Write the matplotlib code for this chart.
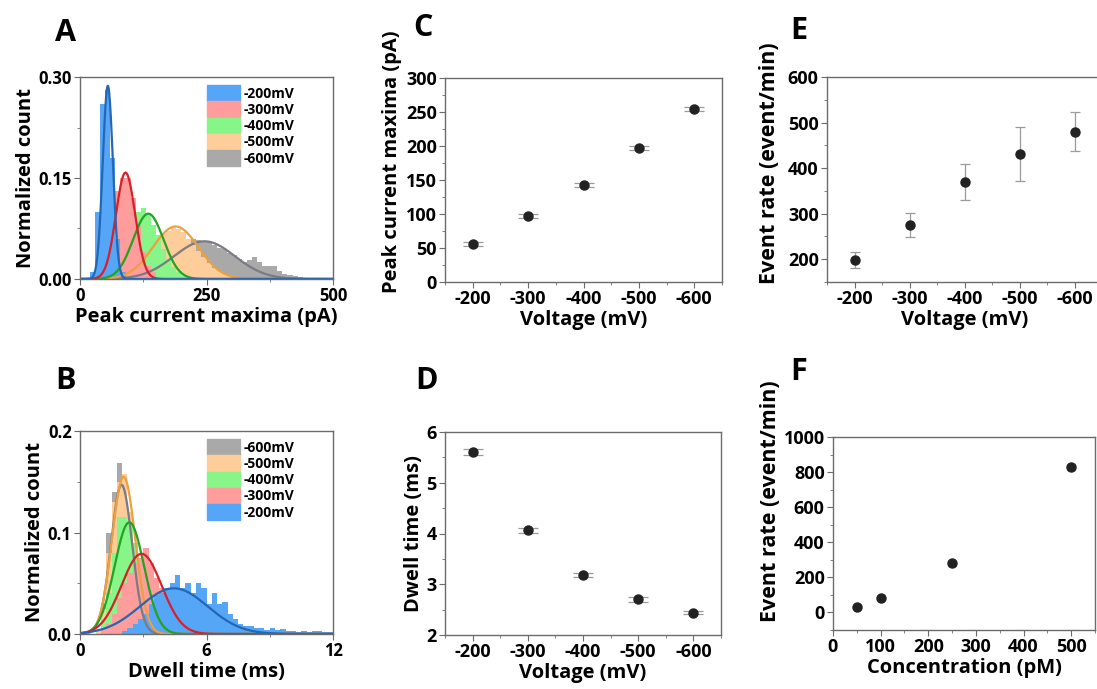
import matplotlib.pyplot as plt
import numpy as np
from matplotlib.patches import Patch
from matplotlib.ticker import MultipleLocator

# ---- data ----
volts = [-200, -300, -400, -500, -600]
mv_labels = ['-200mV', '-300mV', '-400mV', '-500mV', '-600mV']

# panel A histograms (normalized count, 10 pA bins, first left edge in a_start)
a_bin = 10
a_start = [20, 40, 60, 80, 100]
a_200 = [0.01, 0.10, 0.26, 0.28, 0.18, 0.06, 0.01]
a_300 = [0.01, 0.03, 0.07, 0.13, 0.15, 0.15, 0.12, 0.08, 0.04, 0.02, 0.01]
a_400 = [0.005, 0.015, 0.03, 0.05, 0.08, 0.10, 0.105, 0.095, 0.08, 0.065,
         0.045, 0.03, 0.018, 0.01, 0.005, 0.003]
a_500 = [0.005, 0.01, 0.015, 0.02, 0.03, 0.04, 0.05, 0.06, 0.068, 0.072,
         0.075, 0.074, 0.07, 0.06, 0.05, 0.042, 0.032, 0.024, 0.017, 0.012,
         0.008, 0.005, 0.003, 0.002]
a_600 = [0.003, 0.005, 0.008, 0.012, 0.016, 0.022, 0.028, 0.035, 0.042, 0.048,
         0.055, 0.058, 0.06, 0.058, 0.057, 0.055, 0.05, 0.046, 0.044, 0.038,
         0.035, 0.03, 0.025, 0.028, 0.032, 0.025, 0.02, 0.019, 0.02, 0.012,
         0.008, 0.006, 0.004, 0.003, 0.002]
# gaussian fit parameters for A (centre, sigma, amplitude)
a_fit_xc = [55, 90, 135, 189, 246]
a_fit_w = [10, 19, 30, 45, 60]
a_fit_amp = [0.287, 0.158, 0.097, 0.078, 0.056]

# panel B histograms (0.25 ms bins)
b_bin = 0.25
b_start = [2.0, 1.0, 1.0, 0.75, 0.75]
b_200 = [0.003, 0.006, 0.01, 0.015, 0.02, 0.03, 0.038, 0.04, 0.045, 0.05,
         0.058, 0.045, 0.05, 0.04, 0.05, 0.045, 0.03, 0.04, 0.03, 0.032,
         0.02, 0.015, 0.01, 0.008, 0.008, 0.006, 0.006, 0.004, 0.006, 0.004,
         0.005, 0.003, 0.003, 0.002, 0.003, 0.002, 0.003, 0.003, 0.002, 0.002]
b_300 = [0.005, 0.01, 0.02, 0.035, 0.05, 0.06, 0.07, 0.075, 0.085, 0.07,
         0.055, 0.045, 0.035, 0.025, 0.018, 0.012, 0.008, 0.005, 0.003]
b_400 = [0.015, 0.04, 0.08, 0.115, 0.115, 0.11, 0.09, 0.07, 0.045, 0.025,
         0.012, 0.005]
b_500 = [0.005, 0.025, 0.08, 0.13, 0.15, 0.158, 0.12, 0.08, 0.045, 0.02,
         0.01, 0.004]
b_600 = [0.005, 0.03, 0.10, 0.14, 0.168, 0.14, 0.10, 0.06, 0.03, 0.012, 0.005]
b_fit_xc = [4.45, 2.92, 2.34, 2.07, 1.97]
b_fit_w = [1.6, 0.95, 0.7, 0.55, 0.5]
b_fit_amp = [0.045, 0.079, 0.11, 0.155, 0.147]

# panels C-F
peak_current = [56, 97, 143, 197, 254]
peak_err = [3, 3, 3, 3, 3]
dwell_time = [5.6, 4.06, 3.18, 2.70, 2.44]
dwell_err = [0.06, 0.05, 0.04, 0.04, 0.03]
event_rate = [198, 275, 369, 431, 480]
event_err = [17, 26, 40, 60, 43]
conc = [50, 100, 250, 500]
conc_rate = [32, 80, 280, 829]
conc_err = [10, 10, 14, 16]

bar_colors = ['#55a6f6', '#ff9c9c', '#88f588', '#ffcd9a', '#a9a9a9']
line_colors = ['#2467b5', '#d91f2a', '#22a322', '#eea03e', '#7b7b86']

plt.rcParams['font.family'] = ['Open Sans', 'DejaVu Sans']
plt.rcParams['font.weight'] = 'bold'
plt.rcParams['axes.labelweight'] = 'bold'

W, H = 1097, 689
fig = plt.figure(figsize=(W / 100, H / 100), dpi=100)

LABEL_SIZE = 14.5


def box(l, t, r, b):
    return fig.add_axes([l / W, 1 - b / H, (r - l) / W, (b - t) / H])


def style(ax, tsize=13):
    for s in ax.spines.values():
        s.set_color('#6b6b6b')
        s.set_linewidth(1.0)
    ax.tick_params(which='both', direction='out', color='#6b6b6b',
                   labelsize=tsize, pad=2)
    ax.tick_params(which='major', length=4)
    ax.tick_params(which='minor', length=2.5)


def gauss(x, xc, w, amp):
    return amp * np.exp(-(x - xc) ** 2 / (2 * w ** 2))


def hist_legend(ax, order):
    ax.legend([Patch(color=bar_colors[i]) for i in order],
              [mv_labels[i] for i in order], loc='upper left',
              bbox_to_anchor=(0.5, 0.96), frameon=False, fontsize=10,
              handlelength=2.4, handleheight=1.35, labelspacing=0.05,
              handletextpad=0.3, borderpad=0, borderaxespad=0)


# ---- A ----
axA = box(80, 77, 333, 279)
a_hists = [a_200, a_300, a_400, a_500, a_600]
for i in [4, 3, 2, 1, 0]:
    h = a_hists[i]
    left = a_start[i] + a_bin * np.arange(len(h))
    axA.bar(left, h, width=a_bin, align='edge', color=bar_colors[i], lw=0)
xa = np.linspace(0, 500, 600)
for i in [4, 3, 2, 1, 0]:
    axA.plot(xa, gauss(xa, a_fit_xc[i], a_fit_w[i], a_fit_amp[i]),
             color=line_colors[i], lw=1.6)
axA.set_xlim(0, 500)
axA.set_ylim(0, 0.30)
axA.set_xticks([0, 250, 500])
axA.set_yticks([0, 0.15, 0.30])
axA.set_yticklabels(['0.00', '0.15', '0.30'])
axA.xaxis.set_minor_locator(MultipleLocator(125))
axA.yaxis.set_minor_locator(MultipleLocator(0.075))
axA.set_xlabel('Peak current maxima (pA)', fontsize=LABEL_SIZE, labelpad=1)
axA.set_ylabel('Normalized count', fontsize=LABEL_SIZE, labelpad=2)
style(axA, 12)
hist_legend(axA, [0, 1, 2, 3, 4])

# ---- B ----
axB = box(80, 431, 333, 634)
b_hists = [b_200, b_300, b_400, b_500, b_600]
for i in [4, 3, 2, 1, 0]:
    h = b_hists[i]
    left = b_start[i] + b_bin * np.arange(len(h))
    axB.bar(left, h, width=b_bin, align='edge', color=bar_colors[i], lw=0)
xb = np.linspace(0, 12, 600)
for i in [4, 3, 2, 1, 0]:
    axB.plot(xb, gauss(xb, b_fit_xc[i], b_fit_w[i], b_fit_amp[i]),
             color=line_colors[i], lw=1.6)
axB.set_xlim(0, 12)
axB.set_ylim(0, 0.2)
axB.set_xticks([0, 6, 12])
axB.set_yticks([0, 0.1, 0.2])
axB.xaxis.set_minor_locator(MultipleLocator(3))
axB.yaxis.set_minor_locator(MultipleLocator(0.05))
axB.set_xlabel('Dwell time (ms)', fontsize=LABEL_SIZE, labelpad=1)
axB.set_ylabel('Normalized count', fontsize=LABEL_SIZE, labelpad=2)
style(axB, 12)
hist_legend(axB, [4, 3, 2, 1, 0])


def scatter_panel(ax, x, y, err, cap):
    ax.errorbar(x, y, yerr=err, fmt='o', color='#222222', ms=6.5,
                ecolor='#9a9a9a', elinewidth=0.9, capsize=cap, capthick=0.9)


def volt_axis(ax):
    ax.set_xlim(-150, -650)
    ax.set_xticks(volts)
    ax.set_xticklabels([str(v) for v in volts])
    ax.xaxis.set_minor_locator(MultipleLocator(50))
    ax.set_xlabel('Voltage (mV)', fontsize=LABEL_SIZE, labelpad=1)


# ---- C ----
axC = box(445, 78, 722, 282)
scatter_panel(axC, volts, peak_current, peak_err, 7)
volt_axis(axC)
axC.set_ylim(0, 300)
axC.set_yticks(np.arange(0, 301, 50))
axC.yaxis.set_minor_locator(MultipleLocator(25))
axC.set_ylabel('Peak current maxima (pA)', fontsize=LABEL_SIZE)
axC.yaxis.set_label_coords(-0.155, 0.59)
style(axC)

# ---- D ----
axD = box(445, 432, 721, 635)
scatter_panel(axD, volts, dwell_time, dwell_err, 7)
volt_axis(axD)
axD.set_ylim(2, 6)
axD.set_yticks([2, 3, 4, 5, 6])
axD.yaxis.set_minor_locator(MultipleLocator(0.5))
axD.set_ylabel('Dwell time (ms)', fontsize=LABEL_SIZE, labelpad=2)
style(axD)

# ---- E ----
axE = box(827, 77, 1102, 282)
scatter_panel(axE, volts, event_rate, event_err, 3.8)
volt_axis(axE)
axE.set_ylim(150, 600)
axE.set_yticks([200, 300, 400, 500, 600])
axE.yaxis.set_minor_locator(MultipleLocator(50))
axE.set_ylabel('Event rate (event/min)', fontsize=15.5)
axE.yaxis.set_label_coords(-0.171, 0.58)
style(axE)

# ---- F ----
axF = box(833, 437, 1095, 630)
scatter_panel(axF, conc, conc_rate, conc_err, 3)
axF.set_xlim(0, 550)
axF.set_ylim(-100, 1000)
axF.set_xticks([0, 100, 200, 300, 400, 500])
axF.set_yticks([0, 200, 400, 600, 800, 1000])
axF.xaxis.set_minor_locator(MultipleLocator(50))
axF.yaxis.set_minor_locator(MultipleLocator(100))
axF.set_xlabel('Concentration (pM)', fontsize=LABEL_SIZE, labelpad=1)
axF.set_ylabel('Event rate (event/min)', fontsize=15.5)
axF.yaxis.set_label_coords(-0.198, 0.668)
style(axF)

# panel letters
for letter, x, y in [('A', 55, 18), ('B', 55, 366), ('C', 413, 13),
                     ('D', 415, 366), ('E', 790, 16), ('F', 790, 357)]:
    fig.text(x / W, 1 - y / H, letter, fontsize=22, fontweight='bold',
             va='top', ha='left')

fig.savefig('out.png', dpi=100)
